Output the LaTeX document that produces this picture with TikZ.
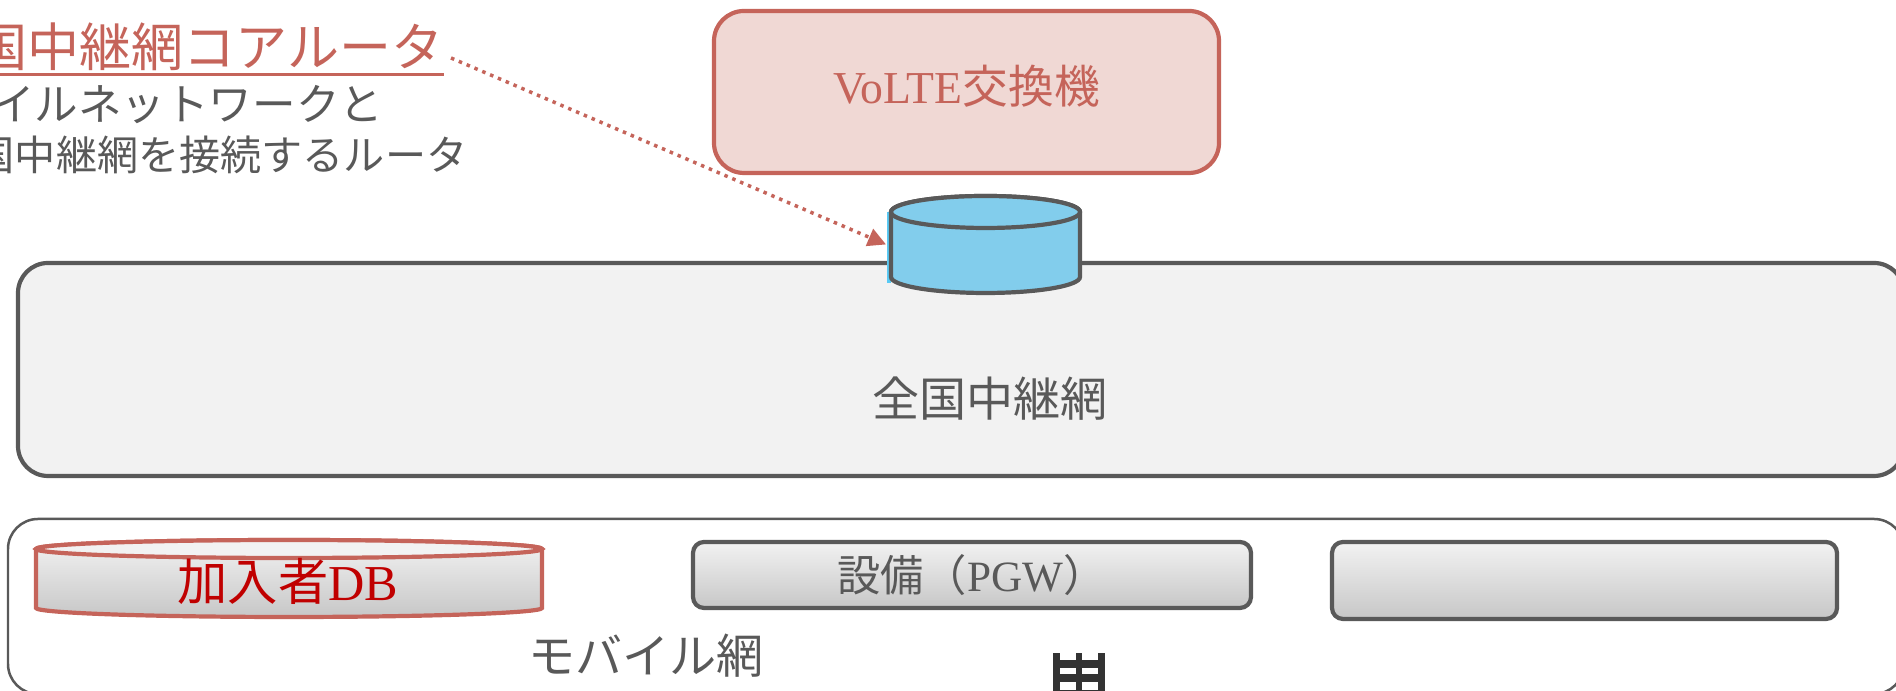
\documentclass[tikz,border=0pt]{standalone}
\usepackage{fontspec}
\setmainfont{Liberation Serif}
\newfontfamily\jpfont{Noto Sans CJK JP}
\usetikzlibrary{arrows.meta}
\definecolor{darkgrey}{HTML}{595959}
\definecolor{brick}{HTML}{C5645A}
\definecolor{palebrick}{HTML}{F0D8D4}
\definecolor{palegrey}{HTML}{F2F2F2}
\definecolor{skyblue}{HTML}{82CDEC}
\definecolor{dbred}{HTML}{C00000}
\definecolor{iconblack}{HTML}{333333}
\tikzset{
  netbox/.style={rounded corners=3mm,line width=0.042cm,draw=darkgrey},
  gearbox/.style={rectangle,rounded corners=1.1mm,line width=0.042cm,draw=darkgrey,
    top color=palegrey,bottom color=black!22,text=darkgrey,font=\fontsize{12.3}{14}\selectfont},
  drumspot/.style={rectangle,inner sep=0,outer sep=0},
  bigtext/.style={text=darkgrey,font=\jpfont\fontsize{13.4}{16}\selectfont},
  notetext/.style={text=darkgrey,font=\jpfont\fontsize{11.7}{14}\selectfont,inner sep=0}
}
% node, x radius, y radius, body look, lid look
\newcommand{\drumat}[5]{
  \draw [line width=0.042cm,#4] ([yshift=-#3 cm]#1.north west) arc (180:0:#2 and #3)
        -- ([yshift=#3 cm]#1.south east) arc (0:-180:#2 and #3) -- cycle;
  \draw [line width=0.042cm,#5] ([yshift=-#3 cm]#1.north) ellipse (#2 and #3);
}

\begin{document}
\begin{tikzpicture}
\useasboundingbox (0,0) rectangle (18.96,6.91);
\clip (0,0) rectangle (18.96,6.91);

% core network
\draw [netbox,fill=palegrey] (0.18,4.28) rectangle (19.04,2.15);
\node [bigtext] (corelabel) at (9.90,2.92) {全国中継網};

% mobile network
\draw [netbox,line width=0.025cm] (0.08,1.72) rectangle (19.04,-0.03);
\node [bigtext] (mobilelabel) at (6.46,0.35) {モバイル網};

% switch and router
\node [rectangle,rounded corners=3mm,line width=0.042cm,draw=brick,fill=palebrick,
       text=brick,minimum width=5.05cm,minimum height=1.62cm,text depth=0.15cm,
       font=\fontsize{13}{16}\selectfont] (volte) at (9.665,5.99) {VoLTE{\jpfont 交換機}};
\node [drumspot,minimum width=1.89cm,minimum height=0.97cm] (corerouter) at (9.855,4.465) {};
\fill [cyan!65] ([xshift=-0.045cm,yshift=-0.16cm]corerouter.north west)
      rectangle ([yshift=0.10cm]corerouter.south west);
\drumat{corerouter}{0.945}{0.16}{draw=darkgrey,fill=skyblue}{draw=darkgrey,fill=skyblue}

% equipment
\node [drumspot,minimum width=5.06cm,minimum height=0.77cm] (subscriberdb) at (2.89,1.125) {};
\drumat{subscriberdb}{2.53}{0.09}{draw=brick,top color=palegrey,bottom color=black!22}{draw=brick,fill=palegrey}
\node [text=dbred,font=\fontsize{14.3}{16}\selectfont] (subscriberlabel) at (2.88,1.10) {{\jpfont 加入者}DB};
\node [gearbox,minimum width=5.58cm,minimum height=0.66cm] (pgw) at (9.72,1.16) {{\jpfont 設備（}PGW{\jpfont ）}};
\node [gearbox,minimum width=5.05cm,minimum height=0.77cm] (spare) at (15.845,1.105) {};

% some text
\node [anchor=east,inner sep=0,text=brick,font=\jpfont\fontsize{14.8}{16}\selectfont,
       minimum height=0.54cm] (routertitle) at (4.44,6.44) {全国中継網コアルータ};
\draw [line width=0.025cm,brick] ([xshift=-0.1cm]routertitle.south west)
      -- (routertitle.south east);
\node [notetext,anchor=east,font=\jpfont\fontsize{12.4}{14}\selectfont] (routernote1) at (3.84,5.87) {モバイルネットワークと};
\node [notetext,anchor=east] (routernote2) at (4.68,5.36) {全国中継網を接続するルータ};

\draw [-{Triangle[length=0.18cm,width=0.18cm]},line width=0.035cm,brick,
       dash pattern=on 0.035cm off 0.05cm]
      ([shift={(0.07,-0.11)}]routertitle.east) -- ([xshift=-0.05cm]corerouter.west);

% building icon
\fill [iconblack] (10.53,-0.1) rectangle (11.05,0.31);
\fill [iconblack] (10.53,0.31) rectangle (10.60,0.38);
\fill [iconblack] (10.76,0.31) rectangle (10.82,0.38);
\fill [iconblack] (10.98,0.31) rectangle (11.05,0.38);
\fill [white] (10.60,0.17) rectangle (10.76,0.23);
\fill [white] (10.82,0.17) rectangle (10.98,0.23);
\fill [white] (10.60,0.01) rectangle (10.76,0.09);
\fill [white] (10.82,0.01) rectangle (10.98,0.09);

\end{tikzpicture}
\end{document}
